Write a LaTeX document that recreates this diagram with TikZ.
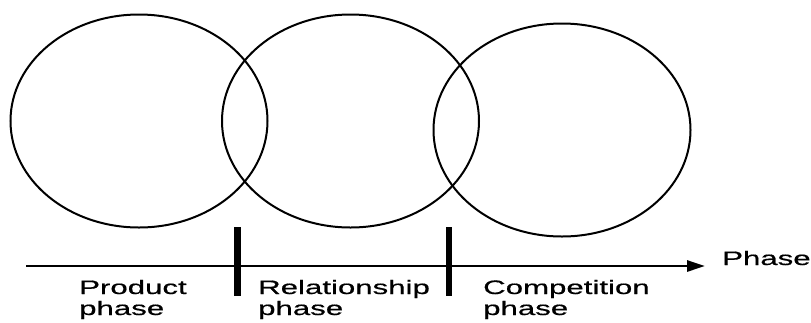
\documentclass[tikz,border=0pt]{standalone}
\usepackage{fontspec}
\newfontfamily\lab[FakeStretch=1.6,FakeBold=0.6]{Liberation Sans}
\usetikzlibrary{shapes.geometric,arrows.meta}
\begin{document}
\begin{tikzpicture}[x=1pt,y=-1pt,
  phasering/.style={draw,ellipse,line width=2pt,inner sep=0pt,minimum width=257pt,minimum height=213pt},
  axisline/.style={line width=2.8pt,-{Triangle[length=18pt,width=11pt]}},
  divider/.style={line width=6.5pt},
  lbl/.style={font=\lab\fontsize{19.5}{21}\selectfont,inner sep=0pt,align=left,anchor=base west}]
\useasboundingbox (0,0) rectangle (811,322);
\node[phasering] (e1) at (139,121) {};
\node[phasering] (e2) at (350.5,121) {};
\node[phasering] (e3) at (562,130) {};
\coordinate (a0) at (26,266);
\coordinate (a1) at (705,266);
\draw[axisline] (a0) -- (a1);
\coordinate (b1t) at (237.5,227);
\coordinate (b1b) at (237.5,296);
\coordinate (b2t) at (449,227);
\coordinate (b2b) at (449,296);
\draw[divider] (b1t) -- (b1b);
\draw[divider] (b2t) -- (b2b);
\node[lbl] (t1) at (79,315) {Product\\phase};
\node[lbl] (t2) at (258,315) {Relationship\\phase};
\node[lbl] (t3) at (483,315) {Competition\\phase};
\node[lbl] (t4) at (722,265) {Phase};
\end{tikzpicture}
\end{document}
